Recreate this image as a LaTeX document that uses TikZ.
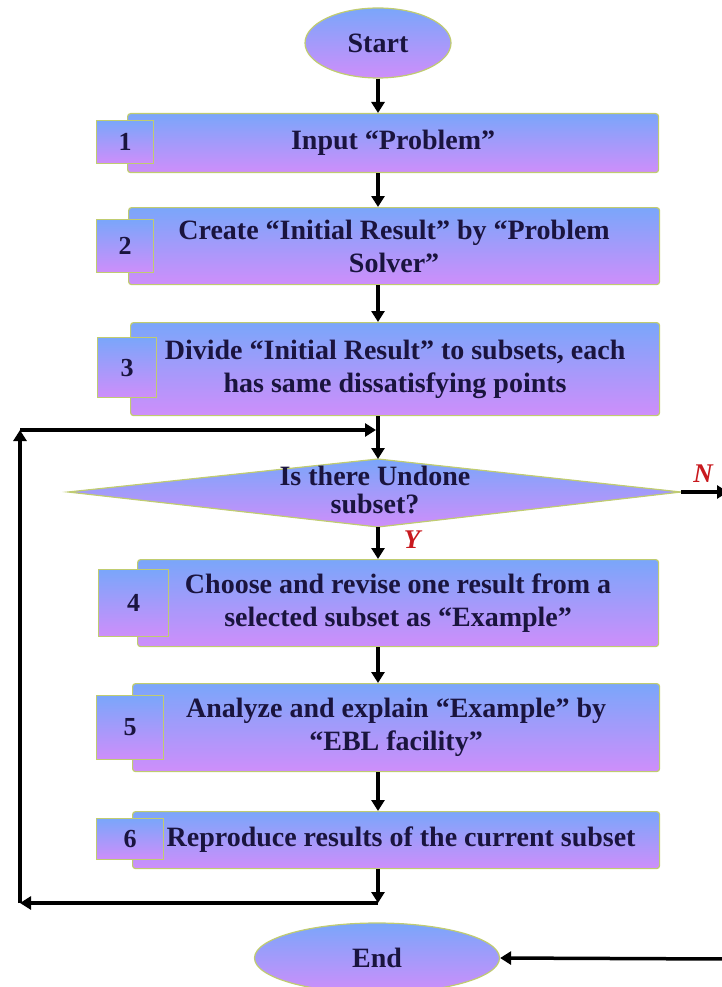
\documentclass[tikz,border=0pt]{standalone}
\usepackage{fontspec}
\setmainfont{Liberation Serif}
\usetikzlibrary{arrows.meta,shapes.geometric}
\definecolor{fillTop}{RGB}{122,166,250}
\definecolor{fillBot}{RGB}{206,142,250}
\definecolor{edgeOl}{RGB}{192,204,112}
\definecolor{inkNavy}{RGB}{26,20,62}
\definecolor{labRed}{RGB}{200,25,30}

\begin{document}
\begin{tikzpicture}[x=1pt,y=-1pt,
  grad/.style={top color=fillTop,bottom color=fillBot,draw=edgeOl,line width=1.2pt},
  stepbox/.style={grad,rectangle,rounded corners=3pt,anchor=north west,inner sep=0pt,
    align=center,font=\fontsize{28}{33}\selectfont\bfseries,text=inkNavy},
  numbox/.style={grad,rectangle,anchor=north west,inner sep=0pt,
    font=\fontsize{26}{30}\selectfont\bfseries,text=inkNavy},
  termin/.style={grad,ellipse,inner sep=0pt,font=\fontsize{28}{33}\selectfont\bfseries,text=inkNavy},
  flow/.style={line width=3.5pt,-{Triangle[width=13pt,length=11pt]}},
  yn/.style={text=labRed,font=\fontsize{27}{30}\selectfont\bfseries\itshape}]

\useasboundingbox (0,0) rectangle (722,987);

% terminals
\node[termin,minimum width=146pt,minimum height=70pt] (start) at (378,43) {Start};
\node[termin,minimum width=245pt,minimum height=70pt] (end) at (377,958) {End};

% process steps
\node[stepbox,minimum width=531pt,minimum height=59pt] (b1) at (127,113) {Input “Problem”};
\node[stepbox,minimum width=531pt,minimum height=77pt] (b2) at (128,207)
  {Create “Initial Result” by “Problem\\Solver”};
\node[stepbox,minimum width=529pt,minimum height=93pt] (b3) at (130,322)
  {Divide “Initial Result” to subsets, each\\has same dissatisfying points};
\node[stepbox,minimum width=521pt,minimum height=87pt] (b4) at (137,559)
  {Choose and revise one result from a\\selected subset as “Example”};
\node[stepbox,minimum width=527pt,minimum height=88pt] (b5) at (132,683)
  {Analyze and explain “Example” by\\“EBL facility”};
\node[stepbox,minimum width=527pt,minimum height=57pt] (b6) at (132,811)
  {\hspace*{10pt}Reproduce results of the current subset};

% step numbers
\node[numbox,minimum width=57pt,minimum height=43pt] (n1) at (96,120) {1};
\node[numbox,minimum width=57pt,minimum height=53pt] (n2) at (96,219) {2};
\node[numbox,minimum width=59pt,minimum height=60pt] (n3) at (97,337) {3};
\node[numbox,minimum width=70pt,minimum height=67pt] (n4) at (98,569) {4};
\node[numbox,minimum width=67pt,minimum height=64pt] (n5) at (96,695) {5};
\node[numbox,minimum width=67pt,minimum height=41pt] (n6) at (96,818) {6};

% decision
\coordinate (dW) at (68,492);
\coordinate (dN) at (378,459);
\coordinate (dE) at (681,492);
\coordinate (dS) at (378,527);
\path[grad] (dW) -- (dN) -- (dE) -- (dS) -- cycle;
\node[align=center,inner sep=0pt,font=\fontsize{28}{28}\selectfont\bfseries,text=inkNavy]
  (q) at (375,490) {Is there Undone\\subset?};

\node[yn] (lblN) at (703,474) {N};
\node[yn] (lblY) at (412,540) {Y};

% main flow
\draw[flow] (start.south) -- (start.south |- b1.north);
\draw[flow] (b1.south -| start) -- (b2.north -| start);
\draw[flow] (b2.south -| start) -- (b3.north -| start);
\draw[flow] (b3.south -| start) -- (dN);
\draw[flow] (dS) -- (b4.north -| start);
\draw[flow] (b4.south -| start) -- (b5.north -| start);
\draw[flow] (b5.south -| start) -- (b6.north -| start);

% loop back to the decision
\coordinate (lpB) at (378,903);
\coordinate (lpBL) at (20,903);
\coordinate (lpTL) at (20,430);
\coordinate (lpT) at (376,430);
\draw[flow] (b6.south -| start) -- (lpB);
\draw[flow] (lpB) -- (lpBL);
\draw[flow] (lpBL) -- (lpTL);
\draw[flow] (lpTL) -- (lpT);

% "no" branch to the end
\coordinate (nOut) at (728,492);
\coordinate (rDown) at (725,959);
\draw[flow] (dE) -- (nOut);
\draw[line width=3.5pt] (725,492) -- (rDown);
\draw[flow] (rDown) -- (end.east);
\end{tikzpicture}
\end{document}
